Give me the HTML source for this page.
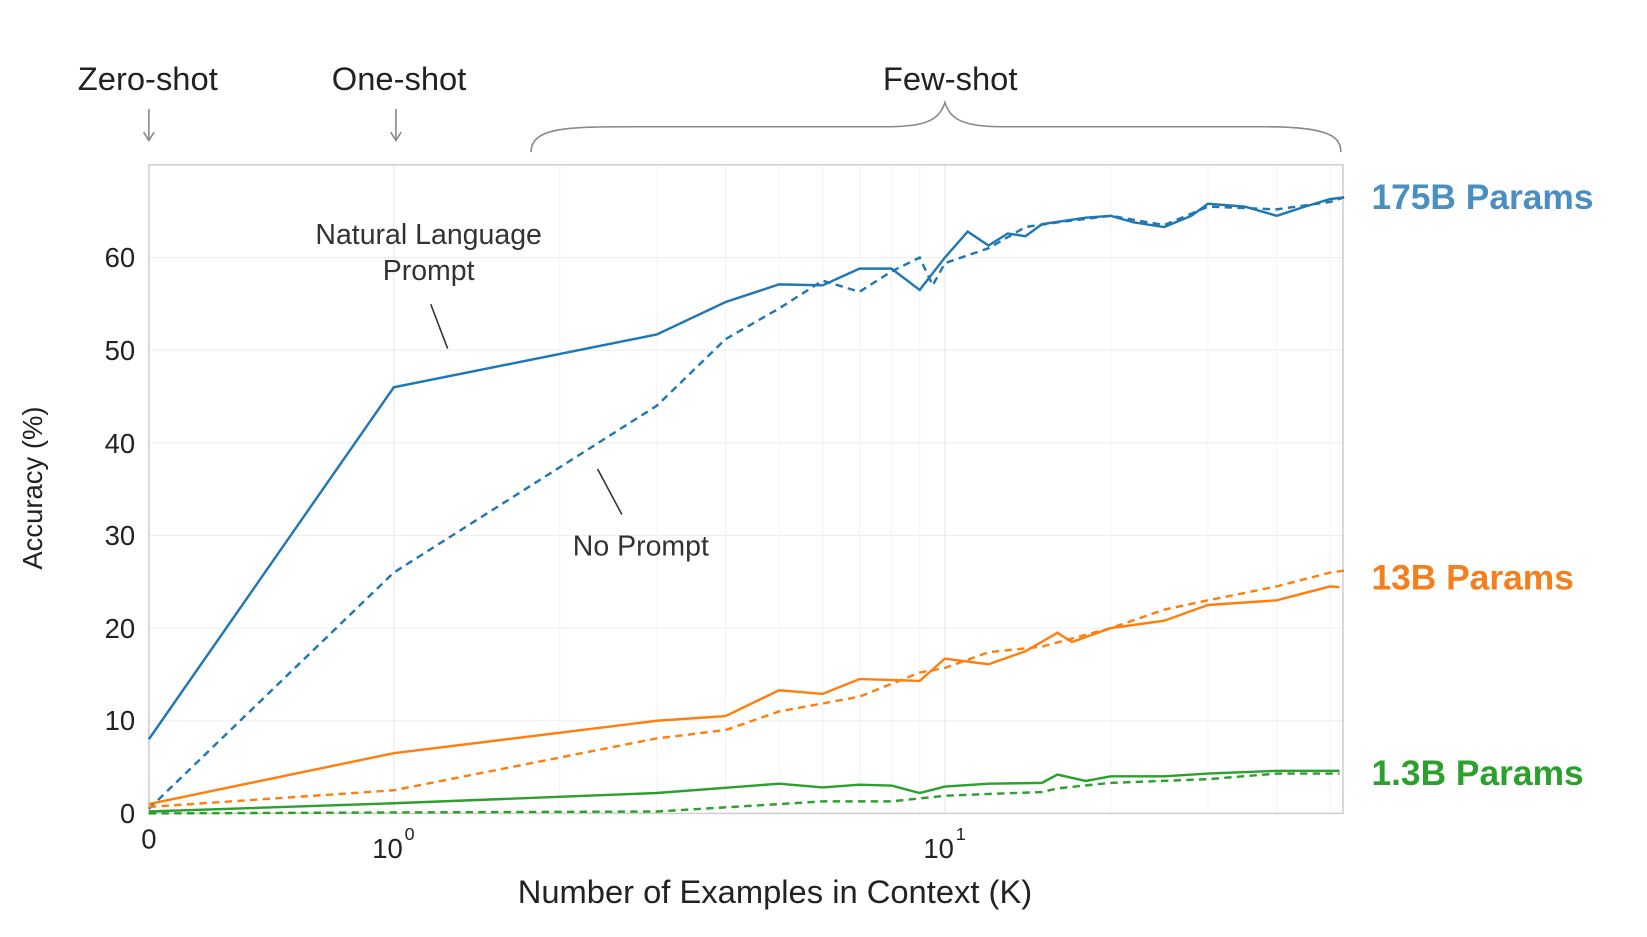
<!DOCTYPE html>
<html><head><meta charset="utf-8"><style>
html,body{margin:0;padding:0;background:#fff;}
svg{display:block;}
text{font-family:"Liberation Sans",sans-serif;}
</style></head><body>
<svg id="s" width="1647" height="937" viewBox="0 0 1560 887" preserveAspectRatio="none" xmlns="http://www.w3.org/2000/svg">
<g id="grid"></g>
<rect x="141" y="156" width="1131" height="614" fill="none" stroke="#d0d0d0" stroke-width="1.5"/>
<g id="series"></g>
<g font-size="26" fill="#222" text-anchor="end">
<text x="128" y="779">0</text><text x="128" y="691">10</text><text x="128" y="604">20</text>
<text x="128" y="516">30</text><text x="128" y="429">40</text><text x="128" y="341">50</text><text x="128" y="253">60</text>
</g>
<g font-size="26" fill="#222" text-anchor="middle">
<text x="141" y="803">0</text>
<text x="367" y="812">10</text><text x="388" y="795" font-size="17">0</text>
<text x="889" y="812">10</text><text x="910" y="795" font-size="17">1</text>
<text x="734" y="855" font-size="31">Number of Examples in Context  (K)</text>
<text transform="translate(40,462) rotate(-90)" font-size="26">Accuracy (%)</text>
<text x="140" y="85" font-size="31">Zero-shot</text>
<text x="378" y="85" font-size="31">One-shot</text>
<text x="900" y="85" font-size="31">Few-shot</text>
<text x="406" y="231" font-size="27" fill="#333">Natural Language</text>
<text x="406" y="265" font-size="27" fill="#333">Prompt</text>
<text x="607" y="526" font-size="27" fill="#333">No Prompt</text>
</g>
<g stroke="#333" stroke-width="1.5"><line x1="408" y1="288" x2="424" y2="330"/><line x1="566" y1="444" x2="589" y2="487"/></g>
<g stroke="#888" stroke-width="1.5" fill="none">
<line x1="141" y1="103" x2="141" y2="133"/><path d="M136 125 L141 133 L146 125"/>
<line x1="375" y1="103" x2="375" y2="133"/><path d="M370 125 L375 133 L380 125"/>
<path d="M503 144 C503 120,540 120,600 120 L840 120 C880 120,890 112,895 97 C900 112,910 120,950 120 L1200 120 C1260 120,1270 130,1270 144"/>
</g>
<g font-size="33.5" font-weight="bold" text-anchor="start">
<text x="1299" y="198" fill="#4a8fc1">175B Params</text>
<text x="1299" y="558" fill="#f47f1c">13B Params</text>
<text x="1299" y="743" fill="#2ca02c">1.3B Params</text>
</g>
</svg>
<script>
var X=function(k){return k===0?141:373+522*Math.log10(k);},Y=function(v){return 770-8.77*v;};
var g=document.getElementById('grid'),h='';
for(var v=10;v<=60;v+=10)h+='<line x1="141" x2="1272" y1="'+Y(v)+'" y2="'+Y(v)+'" stroke="#eee" stroke-width="1"/>';
[1,2,3,4,5,6,7,8,9,10,20,30,40,50].forEach(function(k){h+='<line y1="156" y2="770" x1="'+X(k)+'" x2="'+X(k)+'" stroke="'+((k==1||k==10)?'#e6e6e6':'#f4f4f4')+'" stroke-width="1"/>';});
g.innerHTML=h;
var S=[
['#1f77b4','',[[0,8],[1,46],[3,51.7],[4,55.2],[5,57.1],[6,57],[7,58.8],[8,58.8],[9,56.5],[10,60],[11,62.8],[12,61.3],[13,62.6],[14,62.3],[15,63.6],[18,64.3],[20,64.5],[22,63.8],[25,63.3],[28,64.5],[30,65.8],[35,65.5],[40,64.5],[45,65.5],[50,66.3],[53,66.5]]],
['#1f77b4','7,5',[[0,0.5],[1,26],[3,44],[4,51.2],[5,54.5],[6,57.5],[7,56.3],[8,58.5],[9,60],[9.5,57],[10,59.4],[12,61],[14,63.3],[16,63.8],[20,64.5],[25,63.5],[30,65.5],[40,65.2],[50,66],[53,66.5]]],
['#ff7f0e','',[[0,1],[1,6.5],[3,10],[4,10.5],[5,13.3],[6,12.9],[7,14.5],[8,14.4],[9,14.3],[10,16.7],[12,16.1],[14,17.5],[16,19.5],[17,18.5],[20,20],[25,20.8],[30,22.5],[40,23],[50,24.5],[52,24.4]]],
['#ff7f0e','7,5',[[0,0.7],[1,2.5],[3,8.1],[4,9],[5,11],[7,12.6],[9,15.2],[10,15.7],[12,17.4],[15,18],[20,20],[25,22],[30,23],[40,24.5],[50,26],[53,26.2]]],
['#2ca02c','',[[0,0.2],[1,1.1],[3,2.2],[5,3.2],[6,2.8],[7,3.1],[8,3],[9,2.2],[10,2.9],[12,3.2],[15,3.3],[16,4.2],[18,3.5],[20,4],[25,4],[30,4.3],[40,4.6],[52,4.6]]],
['#2ca02c','7,5',[[0,0],[1,0.1],[3,0.2],[5,1],[6,1.3],[8,1.3],[10,1.9],[12,2.1],[15,2.3],[16,2.7],[20,3.3],[30,3.7],[40,4.3],[52,4.3]]]
];
var out='';
S.forEach(function(s){var d=s[2].map(function(p,i){return (i?'L':'M')+X(p[0]).toFixed(1)+' '+Y(p[1]).toFixed(1);}).join(' ');
out+='<path d="'+d+'" fill="none" stroke="'+s[0]+'" stroke-width="2.3"'+(s[1]?' stroke-dasharray="'+s[1]+'"':'')+'/>';});
document.getElementById('series').innerHTML=out;
</script>
</body></html>
